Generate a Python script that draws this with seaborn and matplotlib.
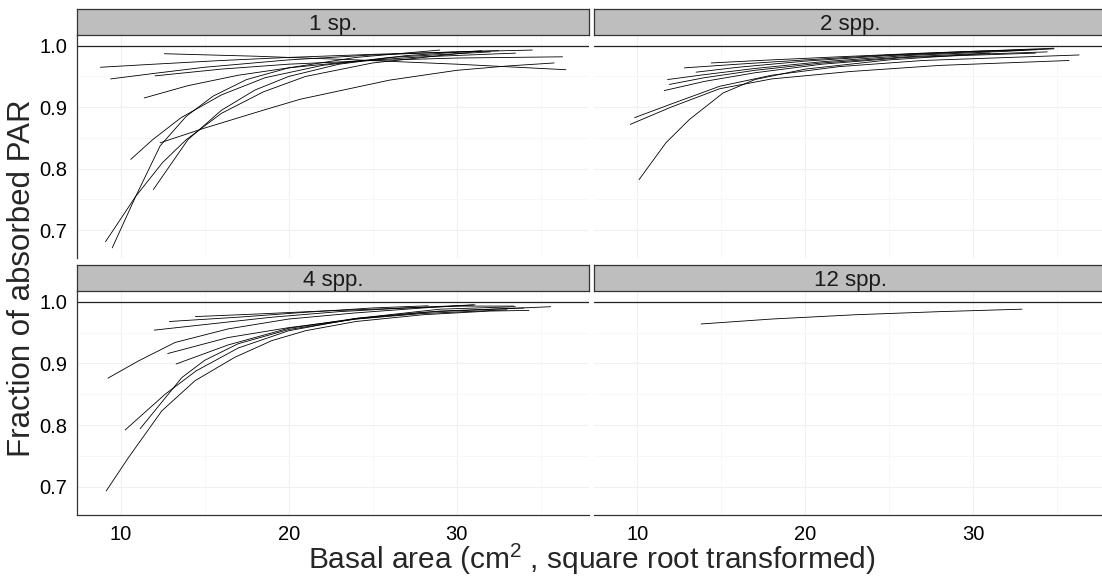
import matplotlib
matplotlib.use('Agg')
import matplotlib.pyplot as plt
import pandas as pd
import seaborn as sns

# facet labels
panels = ['1 sp.', '2 spp.', '4 spp.', '12 spp.']

# curves, one x list and one y list per curve
sp1_x = [
    [8.8, 12, 16, 20, 25, 30, 34.5],
    [9.4, 12, 15, 20, 25, 30, 32.5],
    [12.6, 18, 24, 30, 36.5],
    [11.4, 14, 17, 20, 24, 28, 33.5],
    [9.1, 10.9, 12.5, 13.9, 16, 18.5, 21, 25, 31],
    [9.5, 10.9, 12.35, 13.9, 15.5, 17.5, 20, 24, 29],
    [10.6, 11.9, 13.6, 16, 18.6, 22, 26, 32],
    [11.95, 14, 16, 18, 20, 23, 27, 31.5],
    [12.35, 15, 18.6, 20.7, 26, 30, 33, 35.8],
    [12.05, 16, 20, 25, 30, 36.3],
]
sp1_y = [
    [0.965, 0.970, 0.976, 0.981, 0.986, 0.990, 0.993],
    [0.946, 0.955, 0.965, 0.977, 0.985, 0.990, 0.992],
    [0.987, 0.983, 0.977, 0.970, 0.961],
    [0.915, 0.935, 0.952, 0.964, 0.975, 0.982, 0.988],
    [0.681, 0.755, 0.810, 0.847, 0.890, 0.925, 0.950, 0.972, 0.990],
    [0.671, 0.755, 0.837, 0.885, 0.918, 0.945, 0.964, 0.981, 0.993],
    [0.815, 0.847, 0.883, 0.920, 0.948, 0.968, 0.981, 0.990],
    [0.766, 0.847, 0.895, 0.928, 0.950, 0.970, 0.984, 0.992],
    [0.842, 0.866, 0.896, 0.913, 0.944, 0.960, 0.967, 0.972],
    [0.951, 0.962, 0.970, 0.976, 0.980, 0.982],
]

sp2_x = [
    [10.1, 11.7, 13.1, 15.1, 17, 20, 25, 30, 34.4],
    [9.58, 12, 14.9, 18, 22.65, 28, 35.7],
    [9.84, 12, 14.9, 18, 22, 27, 36.3],
    [11.6, 14, 17, 21, 26, 33.7],
    [11.8, 14, 17, 21, 26, 32, 34.8],
    [12.8, 16, 20, 25, 30, 33.8],
    [13.5, 16, 20, 25, 30, 33],
    [14.4, 18, 22, 27, 32, 34.8],
    [11.9, 14, 17, 21, 26, 31],
]
sp2_y = [
    [0.782, 0.842, 0.880, 0.923, 0.945, 0.962, 0.977, 0.986, 0.990],
    [0.872, 0.900, 0.930, 0.946, 0.958, 0.968, 0.976],
    [0.883, 0.905, 0.934, 0.952, 0.966, 0.976, 0.985],
    [0.927, 0.942, 0.956, 0.970, 0.981, 0.988],
    [0.945, 0.953, 0.963, 0.974, 0.984, 0.991, 0.995],
    [0.964, 0.970, 0.977, 0.985, 0.991, 0.994],
    [0.957, 0.965, 0.975, 0.984, 0.990, 0.993],
    [0.972, 0.977, 0.982, 0.988, 0.993, 0.996],
    [0.937, 0.948, 0.960, 0.972, 0.982, 0.988],
]

sp4_x = [
    [9.14, 10.46, 12.45, 14.43, 16.8, 19, 21, 24, 28, 32, 34.3],
    [9.24, 11.06, 13.24, 16.4, 20, 24, 28, 31.1],
    [10.27, 12.65, 14.5, 17, 20, 24, 29, 33.5],
    [11.16, 13.64, 15, 17, 20, 24, 29, 34],
    [12.8, 16.4, 20, 24, 28, 33],
    [13.3, 16.4, 20, 24, 28, 35.6],
    [12.0, 15, 19, 23, 27, 31],
    [12.9, 17, 21, 25, 28.3],
    [14.45, 18, 22, 26, 30, 33.4],
]
sp4_y = [
    [0.693, 0.747, 0.823, 0.872, 0.910, 0.937, 0.953, 0.968, 0.979, 0.985, 0.986],
    [0.876, 0.904, 0.934, 0.956, 0.972, 0.982, 0.990, 0.995],
    [0.792, 0.850, 0.888, 0.925, 0.953, 0.973, 0.988, 0.992],
    [0.794, 0.877, 0.905, 0.932, 0.955, 0.972, 0.985, 0.990],
    [0.916, 0.942, 0.958, 0.972, 0.981, 0.987],
    [0.899, 0.930, 0.957, 0.973, 0.983, 0.992],
    [0.954, 0.963, 0.975, 0.984, 0.990, 0.995],
    [0.968, 0.975, 0.983, 0.990, 0.9935],
    [0.976, 0.980, 0.985, 0.989, 0.993, 0.993],
]

sp12_x = [[13.8, 18, 23, 28, 32.9]]
sp12_y = [[0.964, 0.972, 0.979, 0.984, 0.988]]

x_ticks = [10, 20, 30]
y_ticks = [0.7, 0.8, 0.9, 1.0]

rows = []
for name, xs, ys in zip(panels, [sp1_x, sp2_x, sp4_x, sp12_x], [sp1_y, sp2_y, sp4_y, sp12_y]):
    for i, (cx, cy) in enumerate(zip(xs, ys)):
        for a, b in zip(cx, cy):
            rows.append({'panel': name, 'curve': i, 'x': a, 'y': b})
df = pd.DataFrame(rows)

sns.set_style('white')
plt.rcParams['font.family'] = ['Liberation Sans', 'DejaVu Sans']
plt.rcParams['mathtext.fontset'] = 'custom'
plt.rcParams['mathtext.rm'] = 'Liberation Sans'
plt.rcParams['mathtext.it'] = 'Liberation Sans:italic'

W, H = 1102, 580
fig = plt.figure(figsize=(W / 100, H / 100), dpi=100)


def box(l, t, r, b):
    return [l / W, 1 - b / H, (r - l) / W, (b - t) / H]


layout = {
    '1 sp.': (77.3, 35, 589.4, 258.3, 9),
    '2 spp.': (594, 35, 1106, 258.3, 9),
    '4 spp.': (77.3, 291, 589.4, 515, 265),
    '12 spp.': (594, 291, 1106, 515, 265),
}

for k, name in enumerate(panels):
    l, t, r, b, st = layout[name]
    ax = fig.add_axes(box(l, t, r, b))
    sub = df[df['panel'] == name]
    sns.lineplot(data=sub, x='x', y='y', units='curve', estimator=None, sort=False,
                 color='black', lw=0.6, ax=ax, legend=False)
    ax.axhline(1.0, color='#222222', lw=0.9)
    ax.set_xlim(7.42, 37.9)
    ax.set_ylim(0.654, 1.0175)
    ax.set_xticks(x_ticks)
    ax.set_xticks([15, 25, 35], minor=True)
    ax.set_yticks(y_ticks)
    ax.set_yticks([0.75, 0.85, 0.95], minor=True)
    ax.grid(True, which='major', color='#F0F0F0', lw=0.8)
    ax.grid(True, which='minor', color='#F6F6F6', lw=0.6)
    ax.set_axisbelow(True)
    ax.set_xlabel('')
    ax.set_ylabel('')
    for s in ax.spines.values():
        s.set_visible(False)
    left = k % 2 == 0
    bottom = k >= 2
    ax.tick_params(which='minor', length=0)
    ax.tick_params(axis='both', which='major', labelsize=14.5, colors='#333333',
                   labelcolor='black', width=0.8, length=3.5)
    if left:
        ax.spines['left'].set_visible(True)
        ax.spines['left'].set_color('#333333')
        ax.spines['left'].set_linewidth(0.9)
        ax.set_yticklabels(['0.7', '0.8', '0.9', '1.0'])
    else:
        ax.tick_params(axis='y', length=0, labelleft=False)
    if bottom:
        ax.spines['bottom'].set_visible(True)
        ax.spines['bottom'].set_color('#333333')
        ax.spines['bottom'].set_linewidth(0.9)
    else:
        ax.tick_params(axis='x', length=0, labelbottom=False)

    sax = fig.add_axes(box(l, st, r, t))
    sax.set_facecolor('#BEBEBE')
    sax.set_xticks([])
    sax.set_yticks([])
    for s in sax.spines.values():
        s.set_color('#333333')
        s.set_linewidth(0.9)
    sax.text(0.5 if left else (589.4 - 77.3) / 2 / (r - l), 0.42, name,
             transform=sax.transAxes, ha='center', va='center', fontsize=16, color='#1A1A1A')

fig.text((77.3 + 1106) / 2 / W, 0.036, r'Basal area (cm$^2$ , square root transformed)',
         ha='center', va='center', fontsize=21.5)
fig.text(22 / W, 1 - 278 / H, 'Fraction of absorbed PAR', rotation=90,
         ha='center', va='center', fontsize=22.5)

fig.savefig('out.png', dpi=100)
